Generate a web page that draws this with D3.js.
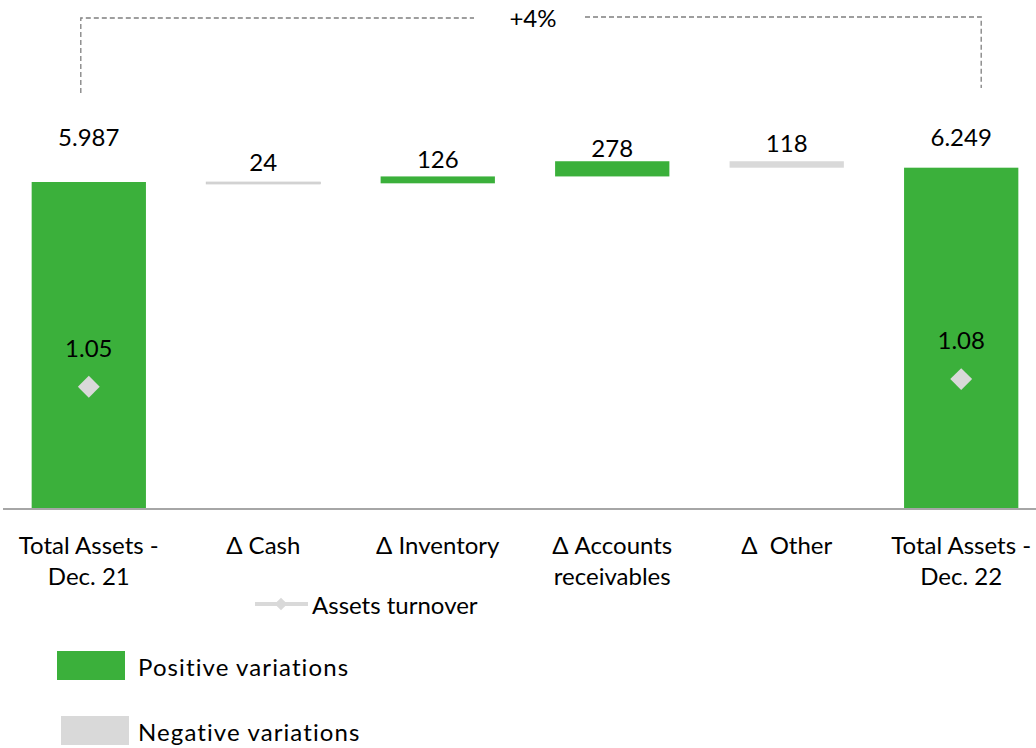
<!DOCTYPE html>
<html><head><meta charset="utf-8">
<script src="https://cdn.jsdelivr.net/npm/d3@7"></script>
<style>
html,body{margin:0;padding:0;background:#fff;}
text{font-family:Lato,"Open Sans",sans-serif;fill:#000;}
</style></head>
<body><svg id="chart" width="1036" height="748"></svg>
<script>
// ---- data ----
const categories = ["Total Assets - Dec. 21", "Δ Cash", "Δ Inventory", "Δ Accounts receivables", "Δ  Other", "Total Assets - Dec. 22"];
const categoryLines = [["Total Assets -", "Dec. 21"], ["Δ Cash"], ["Δ Inventory"], ["Δ Accounts", "receivables"], ["Δ  Other"], ["Total Assets -", "Dec. 22"]];
const kinds = ["total", "delta", "delta", "delta", "delta", "total"];
const values = [5987, -24, 126, 278, -118, 6249];
const turnoverCats = ["Total Assets - Dec. 21", "Total Assets - Dec. 22"];
const turnoverValues = [1.05, 1.08];
const legendLabels = ["Assets turnover", "Positive variations", "Negative variations"];

const GREEN = "#3bb03b", GREY = "#d9d9d9";
const FS = 24;
const svg = d3.select("#chart");

const x = d3.scaleBand().domain(categories).range([2, 1048]).paddingInner(0.345).paddingOuter(0.17);
const baseY = 509;
const y = d3.scaleLinear().domain([0, 5987]).range([baseY, 182]);
const y2 = d3.scaleLinear().domain([0.6, 1.6]).range([502, 246]);

// compute waterfall segments
let running = 0;
const bars = categories.map((c, i) => {
  let start, end;
  if (kinds[i] === "total") { start = 0; end = values[i]; running = values[i]; }
  else { start = running; end = running + values[i]; running = end; }
  return {cat: c, i, start, end, value: values[i], kind: kinds[i]};
});

// bars
svg.append("g").selectAll("rect").data(bars).join("rect")
  .attr("x", d => x(d.cat))
  .attr("width", x.bandwidth())
  .attr("y", d => y(Math.max(d.start, d.end)))
  .attr("height", d => Math.max(2, Math.abs(y(d.start) - y(d.end))))
  .attr("fill", d => d.value >= 0 ? GREEN : GREY)
  .attr("stroke", d => Math.abs(y(d.start) - y(d.end)) < 2 ? "#c4c4c4" : "none")
  .attr("stroke-width", 0.6);

// axis line
const xAxis = d3.axisBottom(x).tickSize(0).tickFormat("");
const ax = svg.append("g").attr("transform", `translate(0,${baseY})`).call(xAxis);
ax.select(".domain").attr("d", `M3,0H1036`).attr("stroke", "#a6a6a6").attr("stroke-width", 2);

// category labels
const fmt = v => d3.format(",")(Math.abs(v)).replace(/,/g, ".");
const catG = svg.append("g");
categories.forEach((c, i) => {
  const t = catG.append("text").attr("text-anchor", "middle").attr("font-size", FS)
    .attr("x", x(c) + x.bandwidth() / 2).attr("y", 554).style("white-space", "pre");
  categoryLines[i].forEach((ln, j) => {
    t.append("tspan").attr("x", x(c) + x.bandwidth() / 2).attr("dy", j === 0 ? 0 : 31).text(ln);
  });
});

// value labels
const maxTotal = d3.max(bars.filter(b => b.kind === "total"), b => b.end);
svg.append("g").selectAll("text").data(bars).join("text")
  .attr("text-anchor", "middle").attr("font-size", FS)
  .attr("x", d => x(d.cat) + x.bandwidth() / 2)
  .attr("y", d => d.kind === "total" ? y(maxTotal) - 22 : (y(d.start) + y(d.end)) / 2 - 12)
  .text(d => fmt(d.value));

// turnover diamonds + labels
const diamond = d3.symbol().type(d3.symbolSquare).size(240);
turnoverCats.forEach((c, i) => {
  const cx = x(c) + x.bandwidth() / 2, cy = y2(turnoverValues[i]);
  svg.append("path").attr("d", diamond()).attr("fill", GREY)
    .attr("transform", `translate(${cx},${cy}) rotate(45)`);
  svg.append("text").attr("text-anchor", "middle").attr("font-size", FS)
    .attr("x", cx).attr("y", cy - 30).text(turnoverValues[i].toFixed(2));
});

// bracket
const xl = x(categories[0]) + x.bandwidth() / 2 - 8;
const xr = x(categories[5]) + x.bandwidth() / 2 + 20;
const pct = Math.round((values[5] / values[0] - 1) * 100);
const bracket = svg.append("g").attr("fill", "none").attr("stroke", "#7f7f7f")
  .attr("stroke-width", 1.3).attr("stroke-dasharray", "5,3");
bracket.append("path").attr("d", `M${xl},93V18H474`);
bracket.append("path").attr("d", `M585,17H${xr}V88`);
svg.append("text").attr("text-anchor", "middle").attr("font-size", FS)
  .attr("x", 533).attr("y", 27).text((pct >= 0 ? "+" : "") + pct + "%");

// legend
const lg = svg.append("g");
lg.append("line").attr("x1", 255).attr("x2", 308).attr("y1", 604).attr("y2", 604)
  .attr("stroke", GREY).attr("stroke-width", 4);
lg.append("path").attr("d", d3.symbol().type(d3.symbolSquare).size(80)())
  .attr("fill", GREY).attr("transform", "translate(281,604) rotate(45)");
lg.append("text").attr("x", 312).attr("y", 614).attr("font-size", FS).text(legendLabels[0]);
lg.append("rect").attr("x", 57).attr("y", 651).attr("width", 68).attr("height", 29).attr("fill", GREEN);
lg.append("text").attr("x", 138).attr("y", 676).attr("font-size", FS).attr("letter-spacing", 1.1).text(legendLabels[1]);
lg.append("rect").attr("x", 61).attr("y", 716).attr("width", 68).attr("height", 29).attr("fill", GREY);
lg.append("text").attr("x", 138).attr("y", 741).attr("font-size", FS).attr("letter-spacing", 1.1).text(legendLabels[2]);
</script></body></html>
